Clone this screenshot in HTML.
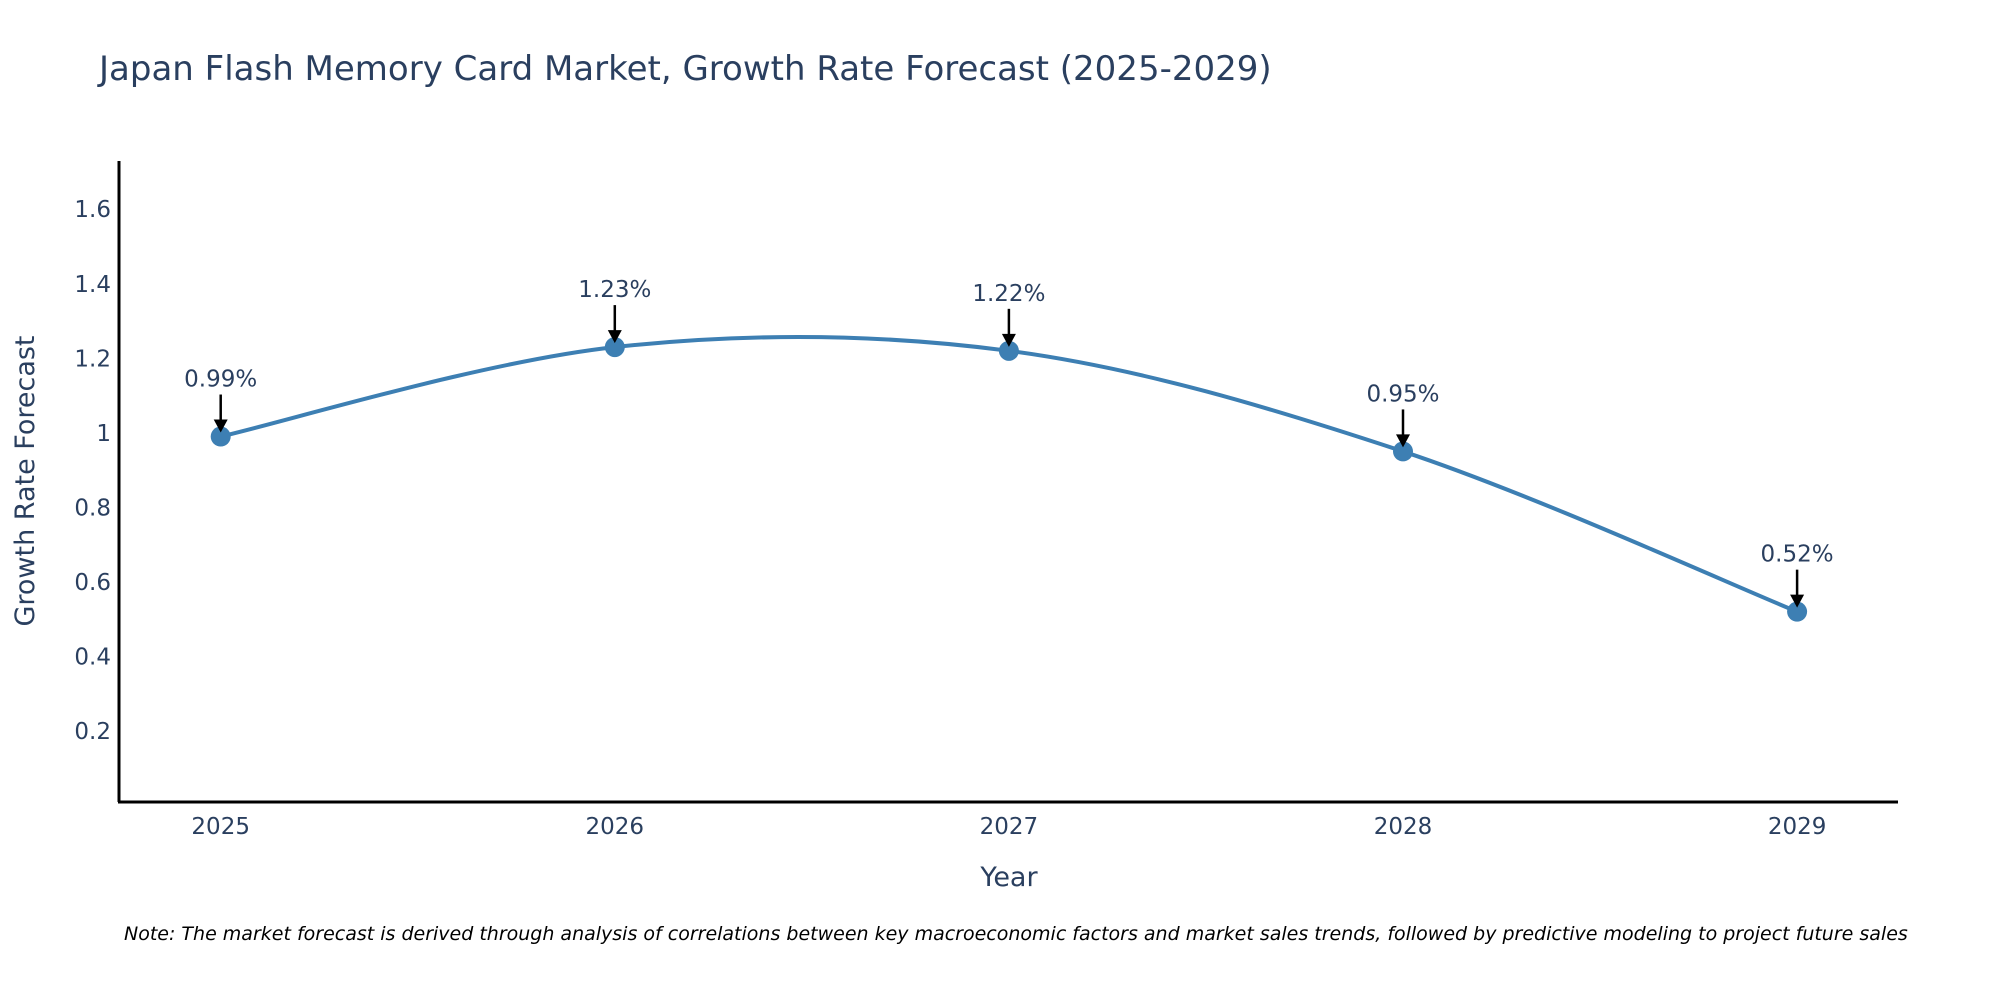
<!DOCTYPE html>
<html><head><meta charset="utf-8"><style>
body{margin:0;background:#fff;}
svg{display:block;font-family:"DejaVu Sans","Liberation Sans",sans-serif;}
</style></head><body>
<svg id="chart" width="2000" height="1000" viewBox="0 0 2000 1000">
<text x="99" y="80" font-size="34" fill="#2a3f5f">Japan Flash Memory Card Market, Growth Rate Forecast (2025-2029)</text>
<g id="yticks"></g>
<g id="xticks"></g>
<line x1="119" y1="161" x2="119" y2="802" stroke="#000" stroke-width="3"/>
<line x1="118" y1="802" x2="1898" y2="802" stroke="#000" stroke-width="3"/>
<text transform="translate(34,481) rotate(-90)" text-anchor="middle" font-size="27" fill="#2a3f5f">Growth Rate Forecast</text>
<text x="1009" y="886" text-anchor="middle" font-size="27" fill="#2a3f5f">Year</text>
<g id="series"></g>
<text x="124" y="940" font-size="19" font-style="italic" fill="#000">Note: The market forecast is derived through analysis of correlations between key macroeconomic factors and market sales trends, followed by predictive modeling to project future sales</text>
</svg>
<script>
const years = [2025, 2026, 2027, 2028, 2029];
const values = [0.99, 1.23, 1.22, 0.95, 0.52];
const labels = ["0.99%", "1.23%", "1.22%", "0.95%", "0.52%"];
const yTicks = [0.2, 0.4, 0.6, 0.8, 1, 1.2, 1.4, 1.6];
const NS = "http://www.w3.org/2000/svg";
function xS(yr){ return 220.7 + (yr - 2025) * 394.1; }
function yS(v){ return 805.4 - v * 372.6; }
function mk(tag, attrs, parent){ const e = document.createElementNS(NS, tag); for (const k in attrs) e.setAttribute(k, attrs[k]); parent.appendChild(e); return e; }
const yt = document.getElementById('yticks');
yTicks.forEach(t => {
  const e = mk('text', {x: 111, y: yS(t) + 8, 'text-anchor': 'end', 'font-size': 23, fill: '#2a3f5f'}, yt);
  
  
  e.textContent = String(t);
});
const xt = document.getElementById('xticks');
years.forEach(y => {
  const e = mk('text', {x: xS(y), y: 834, 'text-anchor': 'middle', 'font-size': 23, fill: '#2a3f5f'}, xt);
  
  
  e.textContent = String(y);
});
const g = document.getElementById('series');
const pts = years.map((y, i) => [xS(y), yS(values[i])]);
let d = 'M' + pts[0][0] + ',' + pts[0][1];
for (let i = 0; i < pts.length - 1; i++) {
  const p0 = pts[Math.max(0, i - 1)], p1 = pts[i], p2 = pts[i + 1], p3 = pts[Math.min(pts.length - 1, i + 2)];
  const c1 = [p1[0] + (p2[0] - p0[0]) / 6, p1[1] + (p2[1] - p0[1]) / 6];
  const c2 = [p2[0] - (p3[0] - p1[0]) / 6, p2[1] - (p3[1] - p1[1]) / 6];
  d += ' C' + c1 + ' ' + c2 + ' ' + p2;
}
const line = mk('path', {d: d, fill: 'none', stroke: '#3d7fb3', 'stroke-width': 4}, g);


pts.forEach((p, i) => {
  const c = mk('circle', {cx: p[0], cy: p[1], r: 10, fill: '#3d7fb3'}, g);
  
  
  const a = mk('line', {x1: p[0], y1: p[1] - 42, x2: p[0], y2: p[1] - 14, stroke: '#000', 'stroke-width': 2.5}, g);
  
  
  const h = mk('path', {d: `M${p[0]-7},${p[1]-17} L${p[0]+7},${p[1]-17} L${p[0]},${p[1]-4} Z`, fill: '#000'}, g);
  
  
  const t = mk('text', {x: p[0], y: p[1] - 50, 'text-anchor': 'middle', 'font-size': 23, fill: '#2a3f5f'}, g);
  
  
  t.textContent = labels[i];
});
</script>
</body></html>
